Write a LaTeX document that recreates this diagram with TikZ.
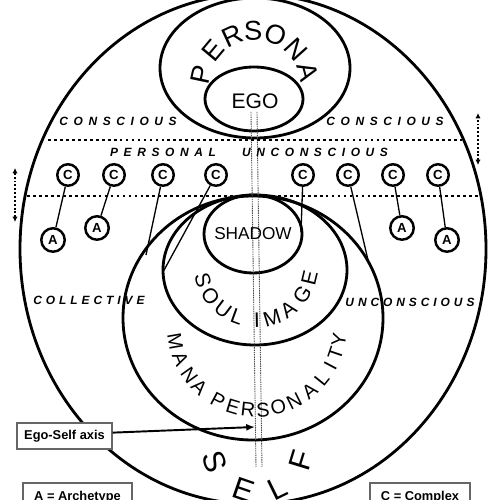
\documentclass[tikz,border=0pt]{standalone}
\usepackage{fontspec}
\setmainfont{Liberation Sans}
\newfontfamily\widelbl[LetterSpace=47]{Liberation Sans}
\newfontfamily\narrowlbl[LetterSpace=33]{Liberation Sans}
\usetikzlibrary{arrows.meta}
\begin{document}
\begin{tikzpicture}[x=0.02cm,y=0.02cm,
  ring/.style={draw, line width=1.6pt},
  cnode/.style={circle, draw, line width=1.4pt, minimum size=0.43cm, inner sep=0pt, font=\bfseries\fontsize{7.5}{8}\selectfont},
  anode/.style={circle, draw, line width=1.4pt, minimum size=0.47cm, inner sep=0pt, font=\bfseries\fontsize{7.5}{8}\selectfont},
  link/.style={line width=0.75pt},
  lblwide/.style={inner sep=0pt, font=\widelbl\bfseries\itshape\fontsize{6.8}{8}\selectfont},
  lblnarrow/.style={inner sep=0pt, font=\narrowlbl\bfseries\itshape\fontsize{6.8}{8}\selectfont},
  dotline/.style={line width=1.5pt, dash pattern=on 1.6pt off 1.8pt},
  vdots/.style={line width=1.1pt, dash pattern=on 1.1pt off 1.1pt, {Latex[length=3pt,width=3pt]}-{Latex[length=3pt,width=3pt]}},
  axisline/.style={black!70, line width=0.5pt, dash pattern=on 0.8pt off 0.5pt},
  keybox/.style={draw=black!60, line width=0.7pt, inner sep=0pt, font=\bfseries\fontsize{7.3}{8}\selectfont},
  bigletter/.style={inner sep=0pt, font=\fontsize{15.5}{16}\selectfont},
  soulletter/.style={inner sep=0pt, font=\fontsize{12}{13}\selectfont},
  manaletter/.style={inner sep=0pt, font=\fontsize{11.3}{12}\selectfont},
  selfletter/.style={inner sep=0pt, font=\fontsize{17.5}{18}\selectfont}
]
\useasboundingbox (0,0) rectangle (500,500);
\clip (0,0) rectangle (500,500);

% main ellipses
\draw[ring] (253,251) ellipse [x radius=233, y radius=255];
\draw[ring] (255,432) ellipse [x radius=95, y radius=70];
\draw[ring] (254,401) ellipse [x radius=49, y radius=32];
\draw[ring] (253,266) ellipse [x radius=49, y radius=39];
\draw[ring] (255,230) ellipse [x radius=92, y radius=75];
\draw[ring] (253,182) ellipse [x radius=130, y radius=122];

% ego-self axis dotted lines
\coordinate (ax1t) at (251,388); \coordinate (ax1b) at (256,33);
\coordinate (ax2t) at (257,388); \coordinate (ax2b) at (262,33);
\draw[axisline] (ax1t) -- (ax1b);
\draw[axisline] (ax2t) -- (ax2b);

% horizontal dotted boundaries
\coordinate (d1l) at (48,360); \coordinate (d1r) at (462,360);
\coordinate (d2l) at (27,304); \coordinate (d2r) at (480,304);
\draw[dotline] (d1l) -- (d1r);
\draw[dotline] (d2l) -- (d2r);

% vertical dotted arrows
\coordinate (la1) at (15,278); \coordinate (la2) at (15,332);
\coordinate (ra1) at (478,335); \coordinate (ra2) at (478,387);
\draw[vdots] (la1) -- (la2);
\draw[vdots] (ra1) -- (ra2);

% texts inside ellipses
\node[inner sep=0pt, font=\fontsize{12}{13}\selectfont] (egotxt) at (255,399) {EGO};
\node[inner sep=0pt, font=\fontsize{9.8}{11}\selectfont] (shadowtxt) at (253,266.5) {SHADOW};

% PERSONA arc
\coordinate (pc) at (255,414);
\foreach \a/\l [count=\i] in {168/P,140/E,114.6/R,92/S,68/O,42/N,15/A}
  \node[bigletter, rotate=\a-90] (pl\i) at ([shift={(\a:55)}]pc) {\l};

% SOUL IMAGE arc
\coordinate (sc) at (256,235);
\foreach \a/\l [count=\i] in {196/S,214/O,233/U,250/L,271/I,287/M,306/A,327/G,346.5/E}
  \node[soulletter, rotate=\a+90] (sl\i) at ([shift={(\a:55)}]sc) {\l};

% MANA PERSONALITY arc
\coordinate (mc) at (257,173);
\foreach \a/\l [count=\i] in {189.8/M,202.7/A,215.3/N,226/A,241.9/P,253.1/E,263.7/R,274.2/S,284.9/O,296.6/N,309.3/A,321.3/L,332.1/I,341.3/T,350.8/Y}
  \node[manaletter, rotate=\a+90] (ml\i) at ([shift={(\a:83)}]mc) {\l};

% SELF arc
\coordinate (fc) at (258,53);
\foreach \a/\l [count=\i] in {199/S,251/E,296/L,343/F}
  \node[selfletter, rotate=\a+90] (fl\i) at ([shift={(\a:45.5)}]fc) {\l};

% region labels
\node[lblwide] (consL) at (118,379) {CONSCIOUS};
\node[lblwide] (consR) at (385,379) {CONSCIOUS};
\node[lblwide] (persL) at (163,348) {PERSONAL};
\node[lblwide] (uncoL) at (315,348) {UNCONSCIOUS};
\node[lblnarrow] (collL) at (89,200) {COLLECTIVE};
\node[lblnarrow] (uncoR) at (410,198) {UNCONSCIOUS};

% complexes and archetypes
\foreach \x [count=\i] in {68,114,163,216,303,348,393,438}
  \node[cnode] (c\i) at (\x,325) {C};
\node[anode] (a1) at (53,260) {A};
\node[anode] (a2) at (97,272) {A};
\node[anode] (a3) at (402,272) {A};
\node[anode] (a4) at (447,260) {A};
\draw[link] (c1) -- (a1);
\draw[link] (c2) -- (a2);
\draw[link] (c7) -- (a3);
\draw[link] (c8) -- (a4);
\coordinate (e3) at (146,245);
\coordinate (e4) at (163,228);
\coordinate (e5) at (301,268);
\coordinate (e6) at (368,240);
\draw[link] (c3) -- (e3);
\draw[link] (c4) -- (e4);
\draw[link] (c5) -- (e5);
\draw[link] (c6) -- (e6);

% Ego-Self axis label
\node[keybox, fill=white, minimum width=1.9cm, minimum height=0.52cm] (esa) at (64.5,64) {Ego-Self axis};
\coordinate (axisend) at (255,73);
\draw[line width=1.1pt, -{Latex[length=5pt,width=4pt]}] (esa.4) -- (axisend);

% key boxes
\node[keybox, minimum width=2.18cm, minimum height=0.58cm] (keyA) at (77.5,2.5) {A = Archetype};
\node[keybox, minimum width=2.0cm, minimum height=0.58cm] (keyC) at (420,2.5) {C = Complex};
\end{tikzpicture}
\end{document}
